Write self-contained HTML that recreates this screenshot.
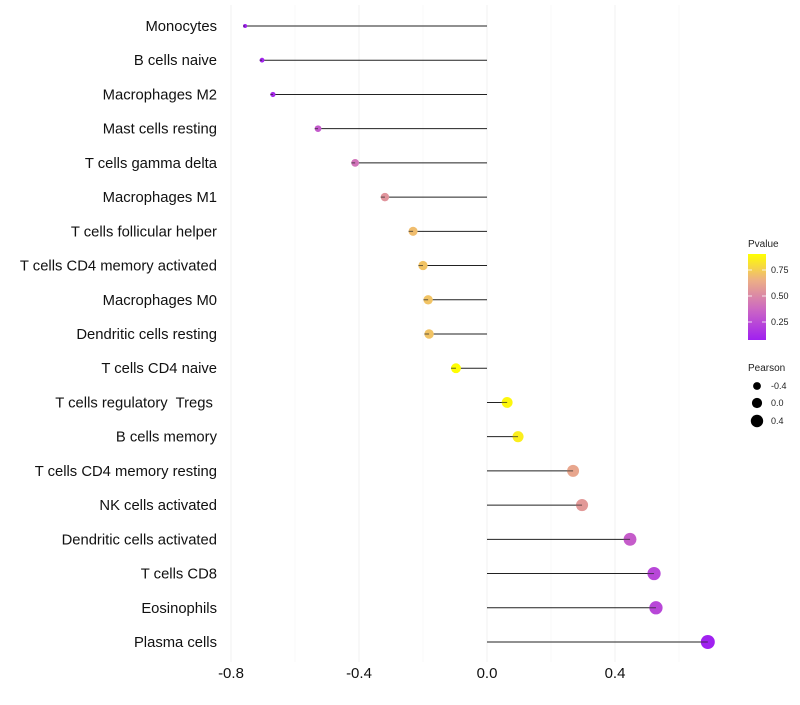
<!DOCTYPE html>
<html><head><meta charset="utf-8"><style>
body{margin:0;background:#fff;font-family:"Liberation Sans",sans-serif;}
</style></head><body>
<svg id="chart" width="800" height="700" xmlns="http://www.w3.org/2000/svg">
<defs><linearGradient id="pg" x1="0" y1="1" x2="0" y2="0">
<stop offset="0" stop-color="#A020F0"/><stop offset="0.35" stop-color="#CB66C4"/><stop offset="0.7" stop-color="#EDB084"/><stop offset="1" stop-color="#FFFF00"/>
</linearGradient></defs>
<g id="grid"></g><g id="marks"></g><g id="labels"></g>
<g font-size="9" fill="#222">
<text x="748" y="247" font-size="10">Pvalue</text>
<rect x="748" y="254" width="18" height="86" fill="url(#pg)"/>
<g stroke="#fff" stroke-width="1" opacity="0.8"><line x1="748" y1="270" x2="752" y2="270"/><line x1="762" y1="270" x2="766" y2="270"/><line x1="748" y1="296" x2="752" y2="296"/><line x1="762" y1="296" x2="766" y2="296"/><line x1="748" y1="322" x2="752" y2="322"/><line x1="762" y1="322" x2="766" y2="322"/></g>
<text x="771" y="273">0.75</text><text x="771" y="299">0.50</text><text x="771" y="325">0.25</text>
</g>
<g font-size="9" fill="#222">
<text x="748" y="371" font-size="10">Pearson</text>
<circle cx="757" cy="386" r="3.9" fill="#000"/><text x="771" y="389">-0.4</text>
<circle cx="757" cy="403" r="5.1" fill="#000"/><text x="771" y="406">0.0</text>
<circle cx="757" cy="421" r="6.2" fill="#000"/><text x="771" y="424">0.4</text>
</g>
</svg>
<script>
const categories=["Monocytes","B cells naive","Macrophages M2","Mast cells resting","T cells gamma delta","Macrophages M1","T cells follicular helper","T cells CD4 memory activated","Macrophages M0","Dendritic cells resting","T cells CD4 naive","T cells regulatory  Tregs ","B cells memory","T cells CD4 memory resting","NK cells activated","Dendritic cells activated","T cells CD8","Eosinophils","Plasma cells"];
const pearson=[-0.756,-0.703,-0.669,-0.528,-0.412,-0.319,-0.231,-0.2,-0.184,-0.181,-0.097,0.063,0.097,0.269,0.297,0.447,0.522,0.528,0.69];
const pvalues=[0.08,0.1,0.12,0.32,0.42,0.55,0.7,0.72,0.72,0.72,0.9,0.88,0.85,0.62,0.57,0.33,0.24,0.24,0.08];
const xTicks=[-0.8,-0.4,0.0,0.4];
const xMinor=[-0.6,-0.2,0.2,0.6];
const NS="http://www.w3.org/2000/svg";
const xs=v=>487+v*320;
const ys=i=>26+i*(616/18);
const rs=v=>Math.sqrt(Math.max(1,27.6+31*v));
const stops=[[0.077,[160,32,240]],[0.37,[203,102,196]],[0.66,[237,176,132]],[0.904,[255,255,0]]];
function col(p){if(p<=stops[0][0])return rgb(stops[0][1]);for(let i=1;i<stops.length;i++){if(p<=stops[i][0]){const t=(p-stops[i-1][0])/(stops[i][0]-stops[i-1][0]);const a=stops[i-1][1],b=stops[i][1];return rgb(a.map((c,k)=>c+(b[k]-c)*t));}}return rgb(stops[3][1]);}
function rgb(a){return "rgb("+a.map(Math.round).join(",")+")";}
function mk(t,at,parent){const e=document.createElementNS(NS,t);for(const k in at)e.setAttribute(k,at[k]);document.getElementById(parent).appendChild(e);return e;}
xMinor.forEach(v=>{const l=mk("line",{x1:xs(v),x2:xs(v),y1:5,y2:662,stroke:"#f5f5f5","stroke-width":0.6},"grid");

});
xTicks.forEach(v=>{const l=mk("line",{x1:xs(v),x2:xs(v),y1:5,y2:662,stroke:"#f0f0f0","stroke-width":1},"grid");


const t=mk("text",{x:xs(v),y:678,"text-anchor":"middle","font-size":15,fill:"#111"},"labels");t.textContent=v.toFixed(1);

});
categories.forEach((c,i)=>{const y=ys(i);
const t=mk("text",{x:217,y:y+5,"text-anchor":"end","font-size":14.8,fill:"#111"},"labels");t.textContent=c;


t.setAttribute('xml:space','preserve');
t.style.whiteSpace='pre';
const l=mk("line",{x1:xs(0),x2:xs(pearson[i]),y1:y,y2:y,stroke:"#222","stroke-width":1},"marks");


const d=mk("circle",{cx:xs(pearson[i]),cy:y,r:rs(pearson[i]),fill:col(pvalues[i])},"marks");


const l2=mk("line",{x1:xs(pearson[i])-rs(pearson[i]),x2:xs(pearson[i]),y1:y,y2:y,stroke:"#222","stroke-width":1,opacity:0.7},"marks");

});
</script>
</body></html>
